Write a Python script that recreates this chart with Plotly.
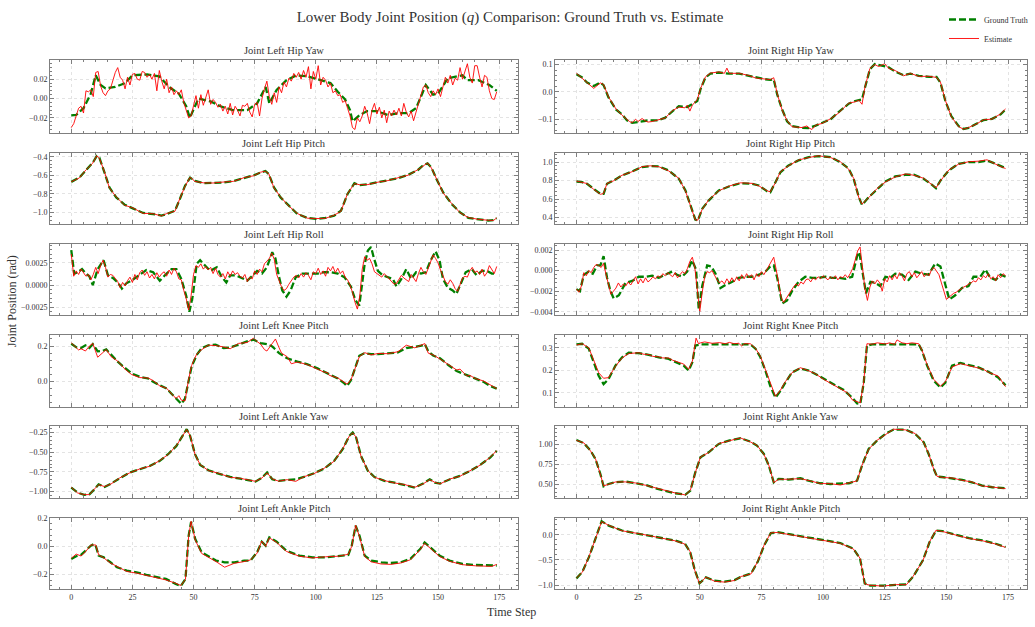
import plotly.graph_objects as go

steps = list(range(175))

# ---------------- Joint Left Hip Yaw ----------------
lhy_gt_t = [0,2,5,8,10,12,14,18,22,25,31,36,40,44,47,48.5,52,57,61,66,72,76,79.5,81,84,88,92,96.5,102,106,
            109,112,114,115,118,121,125,129.5,134,138,141,145,148,150,154,158,160,162,166.5,171,174]
lhy_gt = [-0.0175,-0.017,-0.01,0.005,0.024,0.014,0.0105,0.012,0.016,0.024,0.025,0.023,0.012,0.005,-0.008,-0.02,0.0,-0.003,-0.008,-0.012,
          -0.012,-0.005,0.012,-0.005,0.009,0.019,0.024,0.023,0.019,0.016,0.007,-0.001,-0.012,-0.0236,-0.017,-0.013,-0.013,-0.017,-0.015,-0.015,
          -0.01,0.014,0.004,0.005,0.021,0.0225,0.024,0.019,0.019,0.014,0.008]
lhy_est = [-0.030,-0.026,-0.018,-0.010,-0.008,-0.015,0.008,0.007,0.009,0.002,
           0.027,0.028,0.013,0.006,0.003,0.008,0.010,0.019,0.027,0.032,
           0.022,0.019,0.010,0.022,0.014,0.025,0.026,0.020,0.019,0.028,
           0.027,0.022,0.025,0.020,0.026,0.008,0.029,0.018,0.010,0.020,
           0.006,0.012,0.004,0.008,0.004,0.009,-0.004,-0.012,-0.020,-0.018,
           -0.006,0.003,-0.010,0.004,-0.007,0.001,0.009,-0.006,-0.001,-0.004,
           -0.009,-0.006,-0.013,-0.008,-0.016,-0.005,-0.017,-0.008,-0.012,-0.018,
           -0.007,-0.008,-0.005,-0.014,-0.019,-0.006,-0.004,-0.018,0.000,0.010,
           0.018,0.002,-0.006,0.006,-0.004,0.012,0.006,0.017,0.012,0.021,
           0.018,0.026,0.022,0.027,0.020,0.029,0.022,0.033,0.010,0.028,
           0.020,0.034,0.014,0.022,0.019,0.012,0.016,0.006,0.008,0.003,
           0.004,-0.004,-0.002,-0.010,-0.018,-0.030,-0.032,-0.020,-0.024,-0.018,
           -0.008,-0.015,-0.026,-0.012,-0.005,-0.016,-0.009,-0.020,-0.012,-0.025,
           -0.013,-0.018,-0.012,-0.017,-0.010,-0.018,-0.005,-0.014,-0.019,-0.013,
           -0.023,-0.014,-0.006,0.004,0.012,0.014,0.006,0.002,0.008,0.004,
           0.010,0.002,0.012,0.022,0.016,0.024,0.014,0.021,0.019,0.032,
           0.020,0.028,0.036,0.022,0.016,0.034,0.034,0.022,0.012,0.024,
           0.022,0.008,0.000,-0.001,0.007]

# ---------------- Joint Right Hip Yaw ----------------
rhy_gt_t = [0,2.3,4.3,7,9.7,11,13,16,18.5,20.5,22.6,25,29,33,36,39,41.5,45,47,49,50.3,52.3,54.3,57.7,61.8,66,70,72.6,76,78.6,
            80,81.4,83.4,85.4,87.4,91.5,94,97,99.6,103,106,110.4,113,115.8,117,119,121,124,126.6,129.3,132.7,135.4,138.8,143,146,147.6,
            149.6,152,155,157,159,162,165,168.5,172,174]
rhy_gt = [0.065,0.053,0.034,0.022,0.034,0.025,-0.02,-0.064,-0.082,-0.104,-0.113,-0.11,-0.104,-0.104,-0.094,-0.07,-0.052,-0.055,-0.045,-0.033,
          0.01,0.053,0.067,0.071,0.067,0.067,0.059,0.053,0.047,0.044,0.046,-0.009,-0.064,-0.107,-0.125,-0.131,-0.132,-0.123,-0.113,-0.1,
          -0.076,-0.043,-0.033,-0.027,0.016,0.083,0.102,0.096,0.09,0.074,0.061,0.067,0.059,0.055,0.055,0.034,-0.033,-0.088,-0.125,-0.135,
          -0.131,-0.117,-0.103,-0.098,-0.082,-0.064]
rhy_est_t = [0,2.3,4.3,7,9.7,11,13,16,18.5,20.5,21.5,22.6,24,25,26.6,28,29,30.7,33,36,39,41.5,44,45,46,47,49,50.3,52.3,54.3,
             57.7,60,61,62,66,70,72.6,76,78.6,80,81.4,83.4,85.4,87.4,91.5,93.5,94,95.5,97,99.6,103,106,110.4,113,114.5,115.8,117,119,121,122.5,
             124,125,126.6,129.3,132.7,135.4,138.8,143,146,147.6,149.6,152,155,157,159,162,165,168.5,172,174]
rhy_est = [0.068,0.050,0.036,0.013,0.033,0.027,-0.018,-0.062,-0.085,-0.101,-0.108,-0.112,-0.100,-0.108,-0.097,-0.106,-0.110,-0.108,-0.102,-0.095,
           -0.068,-0.055,-0.058,-0.048,-0.070,-0.048,-0.028,0.012,0.055,0.069,0.073,0.068,0.087,0.068,0.068,0.060,0.051,0.049,0.045,0.052,
           -0.006,-0.066,-0.105,-0.127,-0.130,-0.124,-0.130,-0.137,-0.121,-0.115,-0.098,-0.079,-0.041,-0.036,-0.030,-0.045,0.018,0.086,0.100,0.093,
           0.099,0.103,0.086,0.078,0.059,0.068,0.057,0.057,0.053,0.036,-0.031,-0.090,-0.127,-0.136,-0.130,-0.118,-0.102,-0.099,-0.080,-0.062]

# ---------------- Joint Left Hip Pitch ----------------
lhp_gt_t = [0,3.3,6,8.8,10.4,11.5,13.6,15.6,18.4,21.8,25.2,29.4,33.5,36.9,39,42.4,44.4,46.5,48.6,50.6,54,58,62,66.4,70.5,74.6,77.4,79.4,80.8,82.9,
            85.6,89,92.5,96.6,100,104,107.5,110.3,113,115.8,117.8,121.3,125.4,129.5,133.6,137.7,141.8,143.9,145.7,147.3,149.4,152.1,155.6,159,162.4,166.5,170.6,172.7,174]
lhp_gt = [-0.67,-0.624,-0.546,-0.464,-0.393,-0.41,-0.57,-0.73,-0.837,-0.915,-0.954,-1.004,-1.015,-1.032,-1.015,-0.98,-0.855,-0.713,-0.624,-0.66,
          -0.684,-0.677,-0.677,-0.66,-0.63,-0.6,-0.57,-0.553,-0.588,-0.73,-0.837,-0.926,-1.015,-1.057,-1.068,-1.057,-1.032,-0.98,-0.8,-0.684,
          -0.705,-0.695,-0.677,-0.652,-0.63,-0.595,-0.542,-0.492,-0.471,-0.517,-0.642,-0.784,-0.908,-0.997,-1.057,-1.068,-1.086,-1.08,-1.06]
lhp_est = [-0.668,-0.628,-0.541,-0.468,-0.390,-0.415,-0.565,-0.735,-0.832,-0.920,-0.950,-1.008,-1.012,-1.036,-1.010,-0.985,-0.850,-0.718,-0.620,-0.665,
           -0.680,-0.682,-0.672,-0.664,-0.626,-0.604,-0.566,-0.556,-0.584,-0.735,-0.832,-0.930,-1.010,-1.060,-1.064,-1.061,-1.028,-0.985,-0.795,-0.688,
           -0.700,-0.699,-0.673,-0.656,-0.626,-0.599,-0.538,-0.496,-0.467,-0.521,-0.638,-0.789,-0.904,-1.001,-1.053,-1.072,-1.082,-1.084,-1.056]

# ---------------- Joint Right Hip Pitch ----------------
rhp_gt_t = [0,2.3,4.3,7,9.7,11,12.4,15,18.5,22.6,26.6,30,33.4,37.4,41.5,44.2,46.2,48.2,49.2,51,53.6,57.7,61.8,66.5,71.2,74,77.3,78.6,80.7,82.7,
            86,90,94.2,98.2,103,107,110.4,112.4,114.5,115.8,118.5,121.9,125.3,129.3,133.4,136.8,140.8,144.2,145.8,147.6,151,155,159,163,166.5,169.9,174]
rhp_gt = [0.79,0.783,0.765,0.71,0.656,0.656,0.765,0.8,0.855,0.9,0.946,0.957,0.953,0.91,0.82,0.693,0.53,0.378,0.367,0.494,
          0.584,0.693,0.736,0.772,0.765,0.747,0.685,0.674,0.783,0.89,0.964,1.018,1.054,1.065,1.054,1.0,0.928,0.82,0.62,0.537,
          0.62,0.71,0.79,0.845,0.863,0.863,0.82,0.754,0.718,0.8,0.91,0.982,1.0,1.0,1.018,0.982,0.935]
rhp_est = [0.795,0.780,0.768,0.705,0.652,0.660,0.770,0.797,0.858,0.896,0.950,0.960,0.950,0.905,0.825,0.688,0.535,0.375,0.372,0.490,
           0.590,0.689,0.740,0.776,0.770,0.742,0.690,0.678,0.779,0.895,0.960,1.022,1.050,1.068,1.050,1.004,0.923,0.825,0.615,0.545,
           0.615,0.714,0.786,0.840,0.872,0.858,0.825,0.750,0.722,0.796,0.915,0.978,1.004,1.010,1.025,0.978,0.930]

# ---------------- Joint Left Hip Roll ----------------
lhr_gt_t = [0,1.2,2.6,4.4,6,7.4,8.8,10.8,13.2,15,17,19,20.7,22.5,24.6,26.6,28.7,30.7,33.5,36.2,39,41,43,45,47,48.3,49.7,51.3,52.7,54.7,
            56.8,59.5,61.6,63.4,65,67,69,72,74,76,78,80,82.2,83.5,85,86.3,88,89.7,91.8,94.5,98,100.7,103.4,106,109,111.7,114.4,116.2,117.8,120,
            121.3,122.6,123.7,125.4,127.4,129.5,131.5,133,135,137,139,141,143,145,147,149,150.6,152,154,156,157.5,159.5,161.3,163.8,165.8,168,170,172,174]
lhr_gt = [0.00395,0.00127,0.00145,0.0018,0.0013,0.001,0.0,0.0018,0.0028,0.0011,0.0008,0.0003,-0.0004,0.0002,0.0005,0.0009,0.0013,0.0017,0.00145,0.0005,
          0.0013,0.0018,0.0018,0.0007,-0.0012,-0.003,-0.0012,0.0024,0.0028,0.0022,0.0016,0.002,0.0009,0.0003,0.0011,0.0011,0.0009,0.0005,0.0011,0.0016,
          0.0013,0.002,0.0037,0.003,0.0009,-0.0006,-0.0013,-0.0006,0.0009,0.0013,0.0013,0.0013,0.00145,0.00145,0.0013,0.0009,-0.0002,-0.0017,-0.0023,0.0024,
          0.0039,0.0043,0.0031,0.0016,0.0011,0.0009,0.0007,-0.00015,0.0007,0.0018,0.0007,0.00145,0.0013,0.00145,0.0028,0.0038,0.0028,0.0007,-0.0003,-0.0006,
          -0.001,0.0003,0.00145,0.0018,0.0011,0.0016,0.0016,0.0013,0.0013]
lhr_est = [0.0035,0.0010,0.0016,0.0012,0.0018,0.0014,0.0010,0.0012,0.0006,0.0012,
           0.0020,0.0013,0.0022,0.0028,0.0020,0.0009,0.0012,0.0011,0.0008,0.0004,
           -0.0003,0.0003,-0.0001,0.0005,0.0009,0.0003,0.0012,0.0006,0.0014,0.0017,
           0.0011,0.0015,0.0008,0.0012,0.0007,0.0014,0.0009,0.0013,0.0015,0.0010,
           0.0017,0.0012,0.0019,0.0015,0.0007,0.0006,-0.0006,-0.0015,-0.0028,-0.0012,
           0.0012,0.0022,0.0020,0.0024,0.0018,0.0021,0.0017,0.0020,0.0013,0.0019,
           0.0012,0.0009,0.0013,0.0007,0.0015,0.0010,0.0016,0.0012,0.0014,0.0010,
           0.0008,0.0012,0.0004,0.0009,0.0007,0.0016,0.0012,0.0018,0.0015,0.0024,
           0.0027,0.0030,0.0036,0.0029,0.0012,0.0004,-0.0002,-0.0006,-0.0004,0.0001,
           0.0005,0.0009,0.0011,0.0008,0.0013,0.0009,0.0014,0.0011,0.0006,0.0015,
           0.0013,0.0019,0.0012,0.0016,0.0010,0.0020,0.0016,0.0021,0.0014,0.0019,
           0.0013,0.0016,0.0009,0.0006,0.0000,-0.0008,-0.0019,-0.0027,-0.0012,0.0018,
           0.0032,0.0028,0.0030,0.0024,0.0015,0.0013,0.0011,0.0009,0.0013,0.0010,
           0.0006,0.0004,0.0001,0.0002,0.0007,0.0011,0.0008,0.0006,0.0004,0.0012,
           0.0008,0.0004,0.0013,0.0020,0.0015,0.0012,0.0019,0.0027,0.0034,0.0030,
           0.0025,0.0017,0.0010,0.0004,0.0001,0.0006,0.0002,-0.0004,-0.0007,0.0001,
           0.0008,0.0010,0.0009,0.0016,0.0020,0.0014,0.0016,0.0012,0.0018,0.0010,
           0.0014,0.0022,0.0017,0.0013,0.0021]

# ---------------- Joint Right Hip Roll ----------------
rhr_gt_t = [0,1.4,3,5,6.6,8.4,9.7,11,12.4,13.8,15.1,17.2,19.9,22.6,25.3,28,30.7,33.4,36,38.8,40.8,42.8,44.9,46.9,48.5,49.6,51,53,54.7,56.4,
            58.4,60.4,63,65.8,68.5,71.2,74,76.6,78.6,80,81.4,83.4,85.4,87.4,90,92.8,95.5,98.2,101,103.6,106.4,109,111.8,113.8,114.7,116.5,117.4,119.2,121.2,123.2,
            125.3,127.3,129.3,132,134.7,137.4,140,142.8,145.5,147.6,149.6,151.2,153.6,156.3,159,161,163.8,165.8,167.8,170,172,174]
rhr_gt = [-0.0018,-0.002,-0.0004,-0.0001,-0.0003,0.0005,0.0005,0.0014,-0.0007,-0.002,-0.0027,-0.0024,-0.0012,-0.001,-0.0006,-0.0006,-0.0005,-0.0007,-0.0004,-0.0001,
          -0.0004,-0.0006,-0.0001,0.001,0.0001,-0.0038,-0.0015,0.0005,0.0004,-0.0003,-0.0017,-0.0014,-0.0011,-0.0007,-0.0006,-0.0006,-0.0004,-0.0001,0.0004,0.0005,
          -0.0007,-0.0032,-0.0029,-0.002,-0.0011,-0.0006,-0.0007,-0.0007,-0.0006,-0.0007,-0.0007,-0.0008,-0.0006,0.0014,0.0018,-0.0006,-0.0022,-0.0011,-0.0012,-0.0015,
          -0.0006,-0.0007,-0.0003,-0.0004,-0.0009,-0.0001,-0.0003,-0.0004,0.0007,0.0004,-0.0015,-0.0028,-0.0024,-0.0017,-0.0015,-0.0006,-0.0006,0.0001,-0.0007,-0.0009,
          -0.0004,-0.0006]
rhr_est = [-0.0018,-0.0021,-0.0015,-0.0002,-0.0005,0.0000,-0.0002,0.0003,0.0006,0.0005,
           0.0003,0.0007,-0.0004,-0.0014,-0.0023,-0.0020,-0.0017,-0.0012,-0.0016,-0.0013,
           -0.0015,-0.0011,-0.0014,-0.0010,-0.0006,-0.0013,-0.0008,-0.0012,-0.0007,-0.0011,
           -0.0009,-0.0006,-0.0008,-0.0005,-0.0007,-0.0003,-0.0005,-0.0002,-0.0004,-0.0006,
           -0.0002,-0.0007,-0.0004,-0.0001,-0.0003,0.0002,0.0009,0.0013,0.0003,-0.0020,
           -0.0040,-0.0021,-0.0006,-0.0001,-0.0002,0.0000,-0.0005,-0.0009,-0.0012,-0.0010,
           -0.0013,-0.0008,-0.0012,-0.0007,-0.0011,-0.0006,-0.0010,-0.0004,-0.0008,-0.0003,
           -0.0007,-0.0004,-0.0009,-0.0003,-0.0006,-0.0001,-0.0004,0.0000,0.0005,0.0009,
           0.0013,0.0001,-0.0014,-0.0026,-0.0031,-0.0027,-0.0023,-0.0019,-0.0016,-0.0013,
           -0.0015,-0.0011,-0.0013,-0.0009,-0.0008,-0.0011,-0.0007,-0.0009,-0.0006,-0.0008,
           -0.0005,-0.0007,-0.0009,-0.0006,-0.0008,-0.0005,-0.0009,-0.0006,-0.0007,-0.0004,
           -0.0007,-0.0003,0.0002,0.0010,0.0019,0.0023,0.0005,-0.0018,-0.0029,-0.0016,
           -0.0010,-0.0013,-0.0009,-0.0012,-0.0020,-0.0008,-0.0011,-0.0005,-0.0009,-0.0004,
           -0.0008,-0.0002,-0.0005,-0.0010,-0.0003,-0.0001,-0.0006,-0.0002,-0.0007,-0.0004,
           -0.0001,-0.0006,-0.0003,-0.0005,0.0001,0.0003,0.0000,-0.0004,-0.0012,-0.0021,
           -0.0028,-0.0026,-0.0024,-0.0022,-0.0021,-0.0019,-0.0018,-0.0016,-0.0015,-0.0013,
           -0.0012,-0.0010,-0.0011,-0.0007,-0.0009,-0.0005,-0.0007,-0.0003,-0.0008,-0.0006,
           -0.0010,-0.0004,-0.0007,-0.0003,-0.0005]

# ---------------- Joint Left Knee Pitch ----------------
lkp_gt_t = [0,2,4,5.8,7.4,8.8,10.8,12.9,14.3,16.3,19,21.8,24.6,28,31.4,33.5,36.2,39,41,43,45,46.5,47.9,49.2,51.3,53.4,56,59,62.3,65,
            68.4,71.9,74.6,77.4,80,82.2,85,88.3,92.5,96.6,100.7,104.8,109,111.7,112.8,114.4,116.5,117.8,120,122.6,125.4,129.5,133.6,137,140.5,143.2,144.6,146,148,150.8,
            154.2,157.6,161.8,165.2,168.6,171.3,174]
lkp_gt = [0.213,0.194,0.189,0.204,0.189,0.211,0.17,0.173,0.181,0.15,0.112,0.078,0.046,0.027,0.017,-0.002,-0.021,-0.04,-0.069,-0.097,
          -0.126,-0.097,0.008,0.084,0.15,0.189,0.204,0.208,0.189,0.192,0.208,0.227,0.236,0.217,0.211,0.198,0.16,0.131,0.112,0.097,
          0.074,0.046,0.017,-0.011,-0.025,0.008,0.093,0.145,0.16,0.154,0.154,0.16,0.164,0.189,0.194,0.202,0.211,0.17,0.147,0.131,
          0.093,0.059,0.036,0.017,-0.002,-0.025,-0.04]
lkp_est_t = [0,2,3,4,5.8,7.4,8.8,10.8,12.9,14.3,16.3,19,21.8,24.6,28,31.4,33.5,36.2,39,41,42,43,44,45,46.5,47.9,49.2,51.3,53.4,56,
             59,62.3,65,68.4,71.9,74.6,76,77.4,79,80,82,83.5,85,86,88.3,90,92.5,96.6,100.7,103,104.8,105.5,109,111.7,112.8,114.4,116.5,117.8,120,122.6,
             125.4,129.5,133.6,137,140.5,143.2,144.6,146,148,150.8,154.2,157.6,159,161.8,163,165.2,168.6,171.3,174]
lkp_est = [0.218,0.190,0.178,0.185,0.172,0.200,0.215,0.137,0.165,0.180,0.140,0.115,0.072,0.040,0.022,0.020,0.005,-0.025,-0.038,-0.072,
           -0.085,-0.095,-0.080,-0.105,-0.110,0.005,0.090,0.155,0.180,0.205,0.203,0.195,0.185,0.215,0.220,0.245,0.225,0.212,0.180,0.172,
           0.215,0.240,0.190,0.160,0.140,0.100,0.110,0.095,0.070,0.055,0.050,0.035,0.020,-0.008,-0.015,0.010,0.098,0.140,0.163,0.150,
           0.158,0.157,0.168,0.205,0.190,0.205,0.214,0.160,0.150,0.127,0.095,0.065,0.070,0.030,0.035,0.017,0.003,-0.020,-0.040]

# ---------------- Joint Right Knee Pitch ----------------
rkp_gt_t = [0,2.3,5,7,9,11,13,15.8,18.5,21.2,25.3,29.3,33.4,37.4,40.8,43.5,45.5,47,48.2,50.3,55,60.4,65.8,70.5,72.6,74.6,76.6,78.6,80.7,82.7,
            84.7,87.4,90.8,94.2,96.9,100.3,104.3,108.4,111.8,113.8,115.1,116.5,117.8,119.9,125.3,132,138.8,140.1,142.2,144.9,147.6,149.6,152.3,155.7,159,163,167,171,174]
rkp_gt = [0.315,0.318,0.296,0.236,0.176,0.139,0.161,0.221,0.258,0.278,0.276,0.269,0.258,0.251,0.236,0.221,0.199,0.236,0.31,0.315,
          0.315,0.315,0.315,0.315,0.296,0.258,0.199,0.131,0.079,0.109,0.146,0.191,0.209,0.199,0.184,0.164,0.139,0.113,0.079,0.054,
          0.052,0.146,0.31,0.315,0.315,0.315,0.315,0.288,0.221,0.154,0.124,0.146,0.221,0.233,0.224,0.213,0.194,0.169,0.134]
rkp_est_t = [0,2.3,5,7,9,11,13,15.8,18.5,21.2,25.3,27,29.3,31,33.4,35,37.4,39,40.8,43.5,45.5,47,48.5,49.5,50.3,52,55,58,60.4,62,
             64,65.8,67,68,70.5,72.6,74.6,76.6,78.6,80.7,82.7,84.7,87.4,90.8,94.2,96.9,100.3,104.3,108.4,110,111.8,113.8,115.1,116.5,117.8,119.9,122,125.3,127,129,
             130,132,134,136,138.8,140.1,142.2,144.9,147.6,149.6,152.3,155.7,159,163,165,167,171,174]
rkp_est = [0.312,0.318,0.300,0.245,0.190,0.165,0.168,0.218,0.255,0.275,0.278,0.272,0.270,0.262,0.260,0.255,0.255,0.245,0.238,0.228,
           0.205,0.240,0.343,0.318,0.322,0.326,0.320,0.323,0.318,0.324,0.318,0.320,0.308,0.318,0.318,0.298,0.262,0.205,0.140,0.085,
           0.112,0.150,0.190,0.212,0.198,0.185,0.160,0.136,0.112,0.100,0.070,0.060,0.056,0.150,0.318,0.316,0.322,0.317,0.322,0.315,
           0.335,0.322,0.318,0.322,0.318,0.290,0.225,0.160,0.130,0.150,0.215,0.230,0.222,0.212,0.205,0.192,0.175,0.128]

# ---------------- Joint Left Ankle Yaw ----------------
lay_gt_t = [0,2.6,5.3,7.4,9.5,11.2,13.6,16.3,19.8,23.9,28,32.1,36.2,39.6,43,45.5,47.2,48.6,50.6,52.7,56.1,60.2,65,69.1,72.6,75.3,78,80.1,82.2,84.9,
            88.3,91.8,95.2,99.3,103.4,107.5,111,113.7,115.1,116.5,118.5,121.3,124,128.1,132.2,136.4,140.5,143.9,146.6,148.7,150.8,154.9,159,163.1,167.2,171.3,174]
lay_gt = [-0.949,-1.013,-1.042,-1.034,-0.97,-0.907,-0.94,-0.898,-0.83,-0.758,-0.716,-0.674,-0.61,-0.525,-0.42,-0.292,-0.208,-0.292,-0.525,-0.661,
          -0.729,-0.771,-0.814,-0.835,-0.852,-0.873,-0.822,-0.758,-0.843,-0.864,-0.852,-0.843,-0.814,-0.767,-0.708,-0.61,-0.462,-0.292,-0.25,-0.314,
          -0.547,-0.737,-0.814,-0.864,-0.886,-0.915,-0.949,-0.898,-0.843,-0.886,-0.898,-0.843,-0.8,-0.737,-0.661,-0.568,-0.483]
lay_est = [-0.945,-1.017,-1.038,-1.038,-0.966,-0.911,-0.936,-0.902,-0.826,-0.762,-0.712,-0.678,-0.606,-0.529,-0.416,-0.296,-0.212,-0.288,-0.529,-0.657,
           -0.733,-0.767,-0.818,-0.831,-0.856,-0.869,-0.826,-0.762,-0.839,-0.868,-0.848,-0.870,-0.810,-0.771,-0.704,-0.614,-0.458,-0.296,-0.254,-0.310,
           -0.551,-0.733,-0.818,-0.860,-0.890,-0.911,-0.945,-0.902,-0.847,-0.882,-0.902,-0.839,-0.804,-0.733,-0.665,-0.564,-0.479]

# ---------------- Joint Right Ankle Yaw ----------------
ray_gt_t = [0,3,5.7,7.7,9.7,11,13,15.8,19.9,23.9,28,32,36,40,44.2,46.2,48.2,50.3,53.6,57.7,61.8,66.5,70.5,73.2,76,78,80,82,86,90.8,
            94.9,98.9,103,107,110.4,113.8,115.8,118.5,121.9,125.3,128.6,133.4,137.4,140.8,142.8,144.9,146.2,148.9,152.3,156.4,160.4,164.5,168.6,174]
ray_gt = [1.058,1.017,0.925,0.821,0.633,0.479,0.508,0.529,0.538,0.517,0.496,0.454,0.425,0.392,0.375,0.425,0.654,0.842,0.904,1.008,
          1.05,1.079,1.038,0.988,0.883,0.738,0.529,0.571,0.563,0.579,0.542,0.517,0.508,0.508,0.517,0.55,0.738,0.946,1.05,1.133,
          1.188,1.188,1.133,1.029,0.883,0.696,0.6,0.592,0.579,0.558,0.529,0.488,0.467,0.454]
ray_est = [1.052,1.021,0.921,0.825,0.629,0.483,0.504,0.533,0.534,0.521,0.492,0.458,0.421,0.396,0.371,0.430,0.650,0.846,0.900,1.012,
           1.046,1.083,1.034,0.992,0.879,0.742,0.525,0.567,0.567,0.575,0.546,0.513,0.512,0.495,0.521,0.546,0.742,0.942,1.054,1.129,
           1.192,1.184,1.137,1.025,0.887,0.692,0.604,0.588,0.583,0.554,0.533,0.484,0.471,0.450]

# ---------------- Joint Left Ankle Pitch ----------------
lap_gt_t = [0,2,4,6,8,9.3,10,11.2,13.3,16,18.7,22.7,26.7,30.7,34.7,38.7,42.7,44.8,46.7,48,49,50.7,53.3,56,59.2,62.7,66.7,70.7,73.3,76,
            77.9,79.5,81,84,88,93.3,98.7,104,109.3,113.3,114.7,116.3,117.9,120,122.7,126.7,130.7,134.7,138.7,142.7,144.5,146.7,150.7,154.7,160,165.3,172,174]
lap_gt = [-0.089,-0.07,-0.061,-0.031,0.005,0.016,0.005,-0.066,-0.078,-0.113,-0.148,-0.172,-0.184,-0.202,-0.219,-0.231,-0.266,-0.282,-0.231,0.075,
          0.174,0.052,-0.042,-0.07,-0.101,-0.113,-0.113,-0.101,-0.101,-0.042,0.033,0.005,0.064,0.033,-0.031,-0.066,-0.078,-0.078,-0.066,-0.061,
          0.005,0.146,0.075,-0.066,-0.101,-0.113,-0.118,-0.113,-0.089,-0.019,0.028,-0.007,-0.066,-0.101,-0.125,-0.132,-0.136,-0.136]
lap_est = [-0.085,-0.055,-0.068,-0.035,0.010,0.012,0.010,-0.060,-0.082,-0.118,-0.143,-0.178,-0.190,-0.205,-0.225,-0.238,-0.262,-0.278,-0.235,0.070,
           0.178,0.045,-0.050,-0.075,-0.108,-0.148,-0.120,-0.108,-0.096,-0.048,0.038,0.000,0.060,0.028,-0.036,-0.070,-0.082,-0.074,-0.070,-0.056,
           0.000,0.150,0.068,-0.072,-0.110,-0.125,-0.128,-0.118,-0.095,-0.024,0.022,-0.012,-0.072,-0.106,-0.130,-0.138,-0.142,-0.128]

# ---------------- Joint Right Ankle Pitch ----------------
rap_gt_t = [0,2.4,5.1,7.8,10.2,13.1,18.5,25.2,33.2,39.9,44,46.1,48,49.9,52.5,56,60,64.1,66.8,70.8,73.5,76.1,78.8,81.5,86.9,93.6,100.3,107,112.3,115,
            116.9,119,124.4,129.8,133.8,136.5,140.5,143.2,145.8,148.5,153.9,159.2,164.6,170,174]
rap_gt = [-0.868,-0.737,-0.44,-0.079,0.27,0.184,0.086,0.02,-0.046,-0.112,-0.178,-0.342,-0.704,-0.967,-0.849,-0.914,-0.934,-0.901,-0.836,-0.77,
          -0.539,-0.211,0.033,0.053,0.007,-0.046,-0.099,-0.164,-0.276,-0.474,-0.967,-1.013,-1.013,-1.0,-0.987,-0.836,-0.507,-0.145,0.086,0.072,
          0.0,-0.066,-0.112,-0.178,-0.243]
rap_est = [-0.860,-0.745,-0.432,-0.085,0.262,0.190,0.080,0.025,-0.052,-0.118,-0.185,-0.335,-0.712,-0.975,-0.842,-0.925,-0.942,-0.910,-0.830,-0.778,
           -0.531,-0.205,0.040,0.047,0.000,-0.052,-0.105,-0.170,-0.282,-0.468,-0.975,-1.005,-1.022,-0.992,-0.995,-0.828,-0.515,-0.138,0.092,0.066,
           -0.006,-0.072,-0.118,-0.184,-0.250]

x_ticks = [0, 25, 50, 75, 100, 125, 150, 175]

panels = [
    ("Joint Left Hip Yaw", lhy_gt_t, lhy_gt, steps, lhy_est, 0.02, ".2f"),
    ("Joint Right Hip Yaw", rhy_gt_t, rhy_gt, rhy_est_t, rhy_est, 0.1, ".1f"),
    ("Joint Left Hip Pitch", lhp_gt_t, lhp_gt, lhp_gt_t, lhp_est, 0.2, ".1f"),
    ("Joint Right Hip Pitch", rhp_gt_t, rhp_gt, rhp_gt_t, rhp_est, 0.2, ".1f"),
    ("Joint Left Hip Roll", lhr_gt_t, lhr_gt, steps, lhr_est, 0.0025, ".4f"),
    ("Joint Right Hip Roll", rhr_gt_t, rhr_gt, steps, rhr_est, 0.002, ".3f"),
    ("Joint Left Knee Pitch", lkp_gt_t, lkp_gt, lkp_est_t, lkp_est, 0.2, ".1f"),
    ("Joint Right Knee Pitch", rkp_gt_t, rkp_gt, rkp_est_t, rkp_est, 0.1, ".1f"),
    ("Joint Left Ankle Yaw", lay_gt_t, lay_gt, lay_gt_t, lay_est, 0.25, ".2f"),
    ("Joint Right Ankle Yaw", ray_gt_t, ray_gt, ray_gt_t, ray_est, 0.25, ".2f"),
    ("Joint Left Ankle Pitch", lap_gt_t, lap_gt, lap_gt_t, lap_est, 0.2, ".1f"),
    ("Joint Right Ankle Pitch", rap_gt_t, rap_gt, rap_gt_t, rap_est, 0.5, ".1f"),
]

W, H = 1035, 627
col_px = [(50, 518), (555, 1027)]
row_px = [(57, 130), (150, 222), (242, 314), (334, 407), (426, 499), (519, 591)]
FONT = "Liberation Serif"
FRAME = "#7f7f7f"
GRID = "#e3e3e3"

fig = go.Figure()
layout = {}
annotations = []
for i, (title, gt_t, gt_v, est_t, est_v, dt, fmt) in enumerate(panels):
    r, c = divmod(i, 2)
    k = i + 1
    xr = "x" if k == 1 else f"x{k}"
    yr = "y" if k == 1 else f"y{k}"
    n1 = min(len(gt_t), len(gt_v))
    n2 = min(len(est_t), len(est_v))
    fig.add_trace(go.Scatter(x=gt_t[:n1], y=gt_v[:n1], mode="lines", name="Ground Truth",
                             legendgroup="gt", showlegend=(i == 0),
                             line=dict(color="#008000", width=2.3, dash="7px,3px"),
                             xaxis=xr, yaxis=yr, hoverinfo="skip"))
    fig.add_trace(go.Scatter(x=est_t[:n2], y=est_v[:n2], mode="lines", name="Estimate",
                             legendgroup="est", showlegend=(i == 0),
                             line=dict(color="#ff0000", width=0.9),
                             xaxis=xr, yaxis=yr, hoverinfo="skip"))
    allv = list(gt_v[:n1]) + list(est_v[:n2])
    lo, hi = min(allv), max(allv)
    pad = 0.05 * (hi - lo)
    x0, x1 = col_px[c]
    t0, t1 = row_px[r]
    common = dict(showline=True, linecolor=FRAME, linewidth=1, mirror="allticks",
                  ticks="inside", ticklen=4, tickwidth=0.8, tickcolor=FRAME,
                  showgrid=True, gridcolor=GRID, griddash="dot", gridwidth=0.7,
                  zeroline=False, tickfont=dict(family=FONT, size=8, color="#333333"))
    layout["xaxis" if k == 1 else f"xaxis{k}"] = dict(
        domain=[x0 / W, x1 / W], anchor=yr, range=[-8.7, 182.7],
        tickmode="array", tickvals=x_ticks, showticklabels=(r == 5),
        minor=dict(ticks="inside", ticklen=2, tickcolor=FRAME, dtick=5, tick0=0, showgrid=False),
        **common)
    layout["yaxis" if k == 1 else f"yaxis{k}"] = dict(
        domain=[1 - t1 / H, 1 - t0 / H], anchor=xr, range=[lo - pad, hi + pad],
        tick0=0, dtick=dt, tickformat=fmt,
        minor=dict(ticks="inside", ticklen=2, tickcolor=FRAME, dtick=dt / 5, tick0=0, showgrid=False),
        **common)
    annotations.append(dict(text=title, x=(x0 + x1) / 2 / W, y=1 - (t0 - 2) / H,
                            xref="paper", yref="paper", xanchor="center", yanchor="bottom",
                            showarrow=False, font=dict(family=FONT, size=10.5, color="#333333")))

annotations.append(dict(text="Joint Position (rad)", x=12 / W, y=1 - 300 / H, xref="paper", yref="paper",
                        textangle=-90, showarrow=False, xanchor="center", yanchor="middle",
                        font=dict(family=FONT, size=12, color="#333333")))
annotations.append(dict(text="Time Step", x=511 / W, y=1 - 614 / H, xref="paper", yref="paper",
                        showarrow=False, xanchor="center", yanchor="middle",
                        font=dict(family=FONT, size=12, color="#333333")))

fig.update_layout(
    width=W, height=H, margin=dict(l=0, r=0, t=0, b=0),
    paper_bgcolor="white", plot_bgcolor="white",
    title=dict(text="Lower Body Joint Position (<i>q</i>) Comparison: Ground Truth vs. Estimate",
               x=510 / W, xanchor="center", y=1 - 17 / H, yanchor="middle",
               font=dict(family=FONT, size=15, color="#333333")),
    legend=dict(x=1033 / W, xanchor="right", y=1 - 1 / H, yanchor="top",
                font=dict(family=FONT, size=8, color="#333333"),
                bgcolor="rgba(0,0,0,0)", itemwidth=30, tracegroupgap=0),
    annotations=annotations,
    showlegend=True,
    **layout,
)

fig.write_html("out.html")
